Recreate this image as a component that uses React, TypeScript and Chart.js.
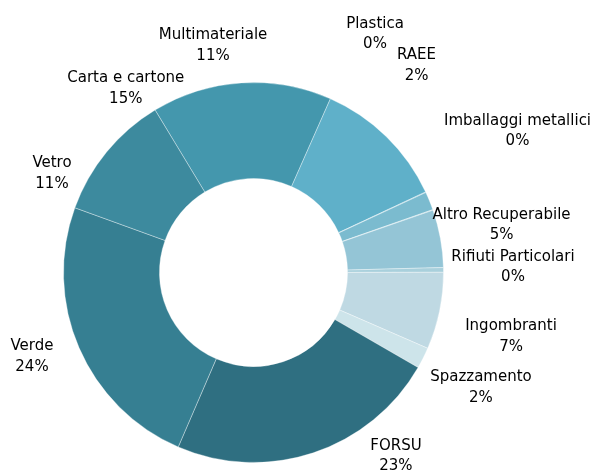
import { useEffect, useRef } from "react";
import { Chart, registerables } from "chart.js";

Chart.register(...registerables);

// ---- data ----
const categories = [
  "Carta e cartone",
  "Multimateriale",
  "Plastica",
  "RAEE",
  "Imballaggi metallici",
  "Altro Recuperabile",
  "Rifiuti Particolari",
  "Ingombranti",
  "Spazzamento",
  "FORSU",
  "Verde",
  "Vetro",
];
const values = [15.3, 11.4, 0.05, 1.55, 0.05, 4.9, 0.4, 6.55, 1.8, 23.15, 24.05, 10.8];

// ---- styles ----
const colors = [
  "#4497ad",
  "#5fb0c9",
  "#6fb6cc",
  "#7bbbcf",
  "#88c0d2",
  "#94c5d6",
  "#a9d0dc",
  "#bfd9e3",
  "#cde4ea",
  "#2f6f81",
  "#367f92",
  "#3d8a9e",
];

// label offsets (px) from each slice's outer mid-point
const labelOffsetX = [-115.6, -173.4, -50.7, -13, 84.6, 61.1, 69.5, 71.5, 57.8, 82.7, -47.1, -54.6];
const labelOffsetY = [4.3, -92.7, -159.7, -137, -80.4, -15, -4.4, 23.9, 28, 1.6, 7.1, 20];

const FONT = "15px 'DejaVu Sans'";
const LINE_GAP = 20.5;

const labelPlugin = {
  id: "outerLabels",
  afterDatasetsDraw(chart: any) {
    const ctx = chart.ctx;
    const meta = chart.getDatasetMeta(0);
    const data = chart.data.datasets[0].data as number[];
    const total = data.reduce((a, b) => a + b, 0);
    ctx.save();
    ctx.font = FONT;
    ctx.fillStyle = "#000000";
    ctx.textAlign = "center";
    ctx.textBaseline = "alphabetic";
    meta.data.forEach((arc: any, i: number) => {
      const p = arc.getProps(["x", "y", "startAngle", "endAngle", "outerRadius"], true);
      const mid = (p.startAngle + p.endAngle) / 2;
      const ax = p.x + Math.cos(mid) * p.outerRadius;
      const ay = p.y + Math.sin(mid) * p.outerRadius;
      const cx = ax + labelOffsetX[i];
      const cy = ay + labelOffsetY[i];
      const pct = Math.round((data[i] / total) * 100) + "%";
      ctx.fillText(chart.data.labels[i], cx, cy - LINE_GAP / 2 + 5.5);
      ctx.fillText(pct, cx, cy + LINE_GAP / 2 + 5.5);
    });
    ctx.restore();
  },
};

export default function App() {
  const ref = useRef<HTMLCanvasElement | null>(null);
  useEffect(() => {
    if (!ref.current) return;
    const chart = new Chart(ref.current, {
      type: "doughnut",
      data: {
        labels: categories,
        datasets: [
          {
            data: values,
            backgroundColor: colors,
            borderColor: "rgba(255,255,255,0.35)",
            borderWidth: 1,
            hoverBorderWidth: 1,
          },
        ],
      },
      options: {
        responsive: false,
        animation: false,
        rotation: -31.2,
        radius: 190,
        cutout: "49.5%",
        layout: { padding: { left: 0, right: 85, top: 70, bottom: 0 } },
        plugins: {
          legend: { display: false },
          tooltip: { enabled: false },
        },
        events: [],
      },
      plugins: [labelPlugin],
    });
    return () => chart.destroy();
  }, []);
  return (
    <div style={{ position: "fixed", left: 0, top: 0, width: 592, height: 475, background: "#fff" }}>
      <canvas ref={ref} width={592} height={475} style={{ display: "block" }} />
    </div>
  );
}
